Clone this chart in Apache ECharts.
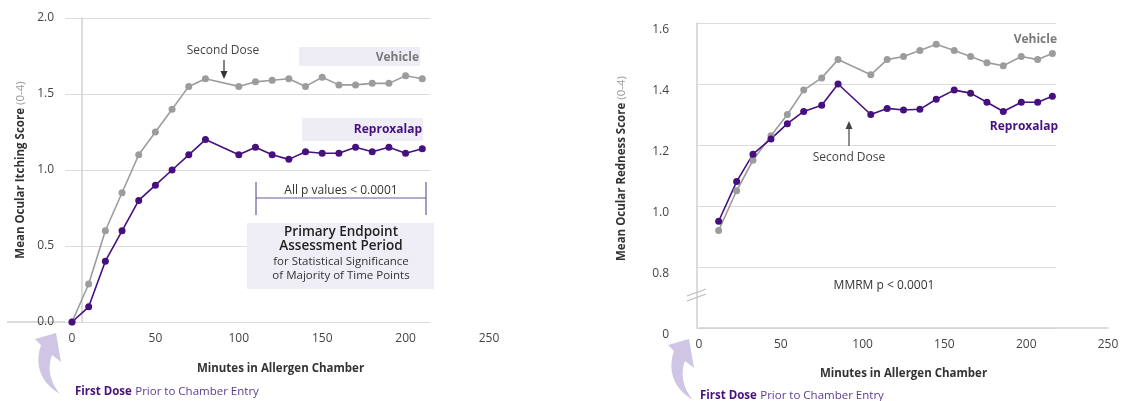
<!DOCTYPE html>
<html><head><meta charset="utf-8">
<script src="https://cdn.jsdelivr.net/npm/echarts@6/dist/echarts.min.js"></script>
<style>html,body{margin:0;padding:0;background:#fff}#c{width:1123px;height:401px}</style>
</head><body><div id="c"></div>
<script>
// ---- data ----
const itchMinutes = [0,10,20,30,40,50,60,70,80,100,110,120,130,140,150,160,170,180,190,200,210];
const itchVehicle = [0,0.25,0.60,0.85,1.10,1.25,1.40,1.55,1.60,1.55,1.58,1.59,1.60,1.55,1.61,1.56,1.56,1.57,1.57,1.62,1.60];
const itchReproxalap = [0,0.10,0.40,0.60,0.80,0.90,1.00,1.10,1.20,1.10,1.15,1.10,1.07,1.12,1.11,1.11,1.15,1.12,1.15,1.11,1.14];
const rednessMinutes = [12,23,33,44,54,64,75,85,105,115,125,135,145,156,166,176,186,197,207,216];
const rednessVehicle = [0.92,1.05,1.15,1.23,1.30,1.38,1.42,1.48,1.43,1.48,1.49,1.51,1.53,1.51,1.49,1.47,1.46,1.49,1.48,1.50];
const rednessReproxalap = [0.95,1.08,1.17,1.22,1.27,1.31,1.33,1.40,1.30,1.32,1.315,1.317,1.35,1.38,1.37,1.34,1.31,1.34,1.34,1.36];
const xTicks = [0,50,100,150,200,250];
const itchTicks = [0,0.5,1.0,1.5,2.0];
const rednessTicks = [0.6,0.8,1.0,1.2,1.4,1.6];
const rednessTickLabels = ['0','0.8','1.0','1.2','1.4','1.6']; // broken axis: bottom tick shown as 0

const FONT = '"Open Sans", "Noto Sans", sans-serif';
const GRAY = '#9c9c9c', PURPLE = '#46107f', LAV = '#eeecf5', TXT = '#444';
const zip = (xs, ys) => xs.map((x, i) => [x, ys[i]]);

const chart = echarts.init(document.getElementById('c'), null, {renderer: 'canvas'});
const tickLabel = {color: TXT, fontSize: 12, fontFamily: FONT};
const nameStyle = {color: '#333', fontSize: 11.5, fontWeight: 'bold', fontFamily: FONT};
const yName = (t) => '{b|' + t + '} {l|(0-4)}';
const yRich = {b: {fontWeight: 'bold', fontSize: 11.5, color: '#333', fontFamily: FONT}, l: {fontSize: 11.5, color: '#999', fontFamily: FONT}};

function lineSeries(x, y, xi, color) {
  return {type: 'line', xAxisIndex: xi, yAxisIndex: xi, data: zip(x, y), symbol: 'circle', symbolSize: 7,
    lineStyle: {color, width: 1.6}, itemStyle: {color}, z: 5, silent: true};
}

// curved "first dose" arrow outline (decoration), sampled cubic beziers
function bez(p0, p1, p2, p3, n) {
  const out = [];
  for (let i = 1; i <= n; i++) {
    const t = i / n, u = 1 - t;
    out.push([u*u*u*p0[0] + 3*u*u*t*p1[0] + 3*u*t*t*p2[0] + t*t*t*p3[0],
              u*u*u*p0[1] + 3*u*u*t*p1[1] + 3*u*t*t*p2[1] + t*t*t*p3[1]]);
  }
  return out;
}
function arrowPts(dx, dy) {
  let pts = [[35, 339], [56, 333], [61, 362], [52, 355]];
  pts = pts.concat(bez([52, 355], [47, 368], [50, 382], [60, 394], 12));
  pts = pts.concat(bez([60, 394], [44, 385], [33, 368], [41, 345], 12));
  return pts.map(p => [p[0] + dx, p[1] + dy]);
}

chart.setOption({
  animation: false,
  textStyle: {fontFamily: FONT},
  grid: [
    {left: 65, top: 18, width: 365, height: 304},
    {left: 72, top: 18, width: 417, height: 304},
    {left: 697, top: 23, width: 359, height: 305},
    {left: 699, top: 23, width: 409, height: 305}
  ],
  xAxis: [
    {gridIndex: 0, type: 'value', min: 0, max: 1, show: false},
    {gridIndex: 1, type: 'value', min: xTicks[0], max: xTicks[xTicks.length - 1], interval: 50,
      axisLine: {show: false}, axisTick: {show: false}, splitLine: {show: false},
      axisLabel: Object.assign({margin: 11}, tickLabel),
      name: 'Minutes in Allergen Chamber', nameLocation: 'middle', nameGap: 41, nameTextStyle: nameStyle},
    {gridIndex: 2, type: 'value', min: 0, max: 1, show: false},
    {gridIndex: 3, type: 'value', min: xTicks[0], max: xTicks[xTicks.length - 1], interval: 50,
      axisLine: {show: true, lineStyle: {color: '#cfcfcf', width: 1.5}}, axisTick: {show: false}, splitLine: {show: false},
      axisLabel: Object.assign({margin: 11}, tickLabel),
      name: 'Minutes in Allergen Chamber', nameLocation: 'middle', nameGap: 40, nameTextStyle: nameStyle}
  ],
  yAxis: [
    {gridIndex: 0, type: 'value', min: itchTicks[0], max: itchTicks[itchTicks.length - 1], interval: 0.5, offset: -17,
      axisLine: {show: true, lineStyle: {color: '#d0d0d0', width: 1.5}}, axisTick: {show: false},
      splitLine: {show: true, lineStyle: {color: '#dcdcdc', width: 1.2}},
      axisLabel: Object.assign({margin: 28, formatter: v => v.toFixed(1)}, tickLabel),
      name: yName('Mean Ocular Itching Score'), nameLocation: 'middle', nameRotate: 90, nameGap: 55,
      nameTextStyle: {rich: yRich}},
    {gridIndex: 1, type: 'value', min: 0, max: 2, show: false},
    {gridIndex: 2, type: 'value', min: rednessTicks[0], max: rednessTicks[rednessTicks.length - 1], interval: 0.2,
      axisLine: {show: true, lineStyle: {color: '#d0d0d0', width: 1.5}}, axisTick: {show: false},
      splitLine: {show: true, lineStyle: {color: '#dcdcdc', width: 1.2}},
      axisLabel: Object.assign({margin: 28, verticalAlign: 'top', lineHeight: 13,
        formatter: v => { const i = rednessTicks.findIndex(t => Math.abs(t - v) < 1e-6); return i >= 0 ? rednessTickLabels[i] : ''; }}, tickLabel),
      name: yName('Mean Ocular Redness Score'), nameLocation: 'middle', nameRotate: 90, nameGap: 69,
      nameTextStyle: {rich: yRich, padding: [0, 0, 0, 14]}},
    {gridIndex: 3, type: 'value', min: 0.6, max: 1.6, show: false}
  ],
  series: [
    lineSeries(itchMinutes, itchVehicle, 1, GRAY),
    lineSeries(itchMinutes, itchReproxalap, 1, PURPLE),
    lineSeries(rednessMinutes, rednessVehicle, 3, GRAY),
    lineSeries(rednessMinutes, rednessReproxalap, 3, PURPLE)
  ],
  graphic: [
    // left chart annotations
    {type: 'line', shape: {x1: 7, y1: 322, x2: 65, y2: 322}, style: {stroke: '#d0d0d0', lineWidth: 1.5}},
    {type: 'rect', shape: {x: 299, y: 47, width: 121, height: 19}, style: {fill: LAV}, z: 1},
    {type: 'text', x: 419, y: 58, style: {text: 'Vehicle', align: 'right', verticalAlign: 'middle', fill: '#7a7a7a', font: 'bold 12px ' + FONT}, z: 10},
    {type: 'rect', shape: {x: 302, y: 118, width: 121, height: 23}, style: {fill: LAV}, z: 1},
    {type: 'text', x: 422, y: 130, style: {text: 'Reproxalap', align: 'right', verticalAlign: 'middle', fill: PURPLE, font: 'bold 12px ' + FONT}, z: 10},
    {type: 'text', x: 223, y: 51, style: {text: 'Second Dose', align: 'center', verticalAlign: 'middle', fill: TXT, font: '12px ' + FONT}, z: 10},
    {type: 'line', shape: {x1: 224, y1: 60, x2: 224, y2: 74}, style: {stroke: '#333', lineWidth: 1.2}, z: 10},
    {type: 'polygon', shape: {points: [[224, 79], [220.5, 71], [227.5, 71]]}, style: {fill: '#333'}, z: 10},
    {type: 'text', x: 341, y: 191, style: {text: 'All p values < 0.0001', align: 'center', verticalAlign: 'middle', fill: '#333', font: '12px ' + FONT}, z: 10},
    {type: 'polyline', shape: {points: [[256, 182], [256, 215]]}, style: {stroke: '#6a5a95', lineWidth: 1.2}, z: 10},
    {type: 'polyline', shape: {points: [[426, 182], [426, 215]]}, style: {stroke: '#6a5a95', lineWidth: 1.2}, z: 10},
    {type: 'line', shape: {x1: 256, y1: 198, x2: 426, y2: 198}, style: {stroke: '#6a5a95', lineWidth: 1.2}, z: 10},
    {type: 'rect', shape: {x: 247, y: 223, width: 187, height: 66}, style: {fill: '#efedf5'}, z: 1},
    {type: 'text', x: 341, y: 232, style: {text: 'Primary Endpoint', align: 'center', verticalAlign: 'middle', fill: '#222', font: '600 13.5px ' + FONT}, z: 10},
    {type: 'text', x: 341, y: 246.5, style: {text: 'Assessment Period', align: 'center', verticalAlign: 'middle', fill: '#222', font: '600 13.5px ' + FONT}, z: 10},
    {type: 'text', x: 341, y: 262, style: {text: 'for Statistical Significance', align: 'center', verticalAlign: 'middle', fill: '#333', font: '11.5px ' + FONT}, z: 10},
    {type: 'text', x: 341, y: 276, style: {text: 'of Majority of Time Points', align: 'center', verticalAlign: 'middle', fill: '#333', font: '11.5px ' + FONT}, z: 10},
    {type: 'polygon', shape: {points: arrowPts(0, 0)}, style: {fill: '#cfc5e4'}, z: 1},
    {type: 'text', x: 75, y: 392, style: {text: '{b|First Dose} {n|Prior to Chamber Entry}', verticalAlign: 'middle',
      rich: {b: {fill: PURPLE, font: 'bold 11.5px ' + FONT}, n: {fill: '#5a3d8f', font: '11.5px ' + FONT}}}, z: 10},
    // right chart annotations
    {type: 'text', x: 1057, y: 40, style: {text: 'Vehicle', align: 'right', verticalAlign: 'middle', fill: '#7a7a7a', font: 'bold 12px ' + FONT}, z: 10},
    {type: 'text', x: 1058, y: 127, style: {text: 'Reproxalap', align: 'right', verticalAlign: 'middle', fill: PURPLE, font: 'bold 12px ' + FONT}, z: 10},
    {type: 'text', x: 849, y: 158, style: {text: 'Second Dose', align: 'center', verticalAlign: 'middle', fill: TXT, font: '12px ' + FONT}, z: 10},
    {type: 'line', shape: {x1: 849, y1: 146, x2: 849, y2: 127}, style: {stroke: '#444', lineWidth: 1.2}, z: 10},
    {type: 'polygon', shape: {points: [[849, 121], [845.5, 129], [852.5, 129]]}, style: {fill: '#444'}, z: 10},
    {type: 'text', x: 884, y: 286, style: {text: 'MMRM p < 0.0001', align: 'center', verticalAlign: 'middle', fill: '#333', font: '12px ' + FONT}, z: 10},
    {type: 'line', shape: {x1: 687, y1: 296, x2: 706, y2: 289}, style: {stroke: '#bdbdbd', lineWidth: 1.3}, z: 10},
    {type: 'line', shape: {x1: 687, y1: 301, x2: 706, y2: 294}, style: {stroke: '#bdbdbd', lineWidth: 1.3}, z: 10},
    {type: 'polygon', shape: {points: arrowPts(633, 6)}, style: {fill: '#cfc5e4'}, z: 1},
    {type: 'text', x: 700, y: 396, style: {text: '{b|First Dose} {n|Prior to Chamber Entry}', verticalAlign: 'middle',
      rich: {b: {fill: PURPLE, font: 'bold 11.5px ' + FONT}, n: {fill: '#5a3d8f', font: '11.5px ' + FONT}}}, z: 10}
  ]
});
</script></body></html>
